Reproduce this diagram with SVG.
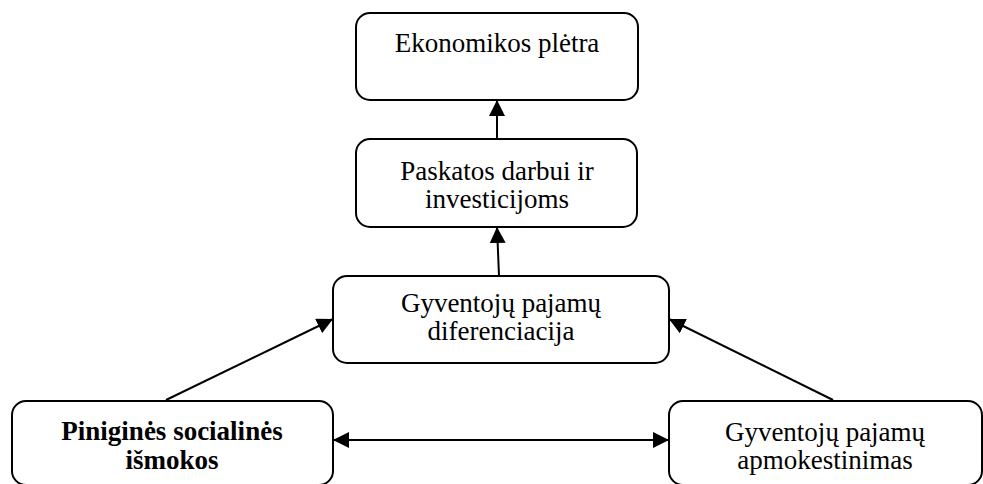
<svg xmlns="http://www.w3.org/2000/svg" width="983" height="484" viewBox="0 0 983 484">
<style>
.box{fill:#fff;stroke:#000;stroke-width:2}
.t{font-family:"Liberation Serif","Times New Roman",serif;font-size:27px;fill:#000;text-anchor:middle}
.b{font-weight:bold}
.c{stroke:#000;stroke-width:2;fill:none}
</style>
<defs>
<marker id="ah" viewBox="0 0 16 16" refX="16" refY="8" markerWidth="16" markerHeight="16" markerUnits="userSpaceOnUse" orient="auto-start-reverse">
<path d="M0,0 L16,8 L0,16 Z" fill="#000"/>
</marker>
</defs>
<rect width="983" height="484" fill="#fff"/>
<g id="n1"><rect class="box" x="356" y="13" width="282" height="87" rx="14"/><text class="t" x="497" y="52">Ekonomikos plėtra</text></g>
<g id="n2"><rect class="box" x="356" y="139" width="281" height="88" rx="14"/><text class="t" x="497" y="180">Paskatos darbui ir</text><text class="t" x="497" y="208">investicijoms</text></g>
<g id="n3"><rect class="box" x="333" y="276" width="336" height="87" rx="14"/><text class="t" x="501" y="312">Gyventojų pajamų</text><text class="t" x="501" y="340">diferenciacija</text></g>
<g id="n4"><rect class="box" x="12" y="401" width="321" height="84" rx="14"/><text class="t b" x="172" y="440">Piniginės socialinės</text><text class="t b" x="172" y="469">išmokos</text></g>
<g id="n5"><rect class="box" x="669" y="401" width="313" height="84" rx="14"/><text class="t" x="825" y="441">Gyventojų pajamų</text><text class="t" x="825" y="469">apmokestinimas</text></g>
<g id="connectors">
<line class="c" x1="497" y1="139" x2="497" y2="100" marker-end="url(#ah)"/>
<line class="c" x1="499" y1="276" x2="497" y2="227" marker-end="url(#ah)"/>
<line class="c" x1="166" y1="400" x2="333" y2="319" marker-end="url(#ah)"/>
<line class="c" x1="833" y1="400" x2="669" y2="319" marker-end="url(#ah)"/>
<line class="c" x1="333" y1="440" x2="669" y2="440" marker-start="url(#ah)" marker-end="url(#ah)"/>
</g>
</svg>
